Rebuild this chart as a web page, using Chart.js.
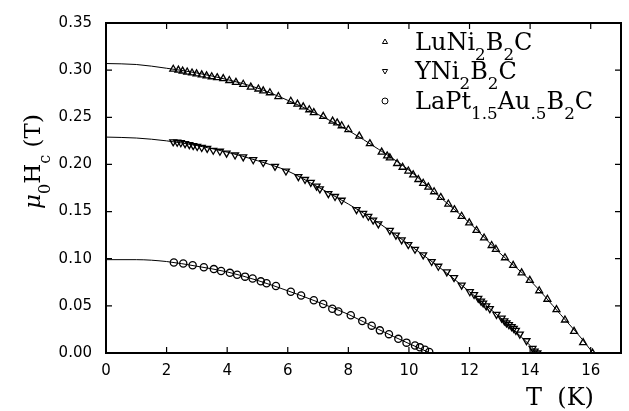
<!DOCTYPE html>
<html>
<head>
<meta charset="utf-8">
<script src="https://cdn.jsdelivr.net/npm/chart.js@4.4.1/dist/chart.umd.min.js"></script>
<style>
  body { margin: 0; background: #fff; }
  #wrap { width: 629px; height: 411px; }
</style>
</head>
<body>
<div id="wrap"><canvas id="myChart"></canvas></div>
<script>
// LuNi2B2C data (T in K, mu0Hc in T)
const luT = [2.22, 2.39, 2.53, 2.68, 2.84, 2.99, 3.16, 3.32, 3.49, 3.67, 3.87, 4.07, 4.29, 4.53, 4.78, 5.03, 5.19, 5.41, 5.69, 6.10, 6.32, 6.51, 6.71, 6.86, 7.17, 7.48, 7.63, 7.78, 8.00, 8.36, 8.71, 9.10, 9.28, 9.37, 9.61, 9.79, 9.98, 10.14, 10.31, 10.47, 10.64, 10.83, 11.05, 11.30, 11.50, 11.74, 11.99, 12.23, 12.48, 12.73, 12.87, 13.17, 13.44, 13.72, 13.99, 14.30, 14.57, 14.87, 15.15, 15.45, 15.75, 16.06];
const luH = [0.301, 0.300, 0.299, 0.298, 0.297, 0.296, 0.295, 0.294, 0.293, 0.292, 0.291, 0.289, 0.287, 0.285, 0.282, 0.280, 0.278, 0.276, 0.272, 0.267, 0.264, 0.261, 0.258, 0.255, 0.251, 0.246, 0.244, 0.241, 0.237, 0.230, 0.222, 0.213, 0.209, 0.207, 0.201, 0.197, 0.193, 0.189, 0.184, 0.180, 0.176, 0.171, 0.165, 0.158, 0.152, 0.145, 0.138, 0.130, 0.122, 0.114, 0.110, 0.101, 0.093, 0.085, 0.077, 0.066, 0.057, 0.046, 0.035, 0.023, 0.011, 0.000];

// YNi2B2C data
const yT = [2.22, 2.35, 2.47, 2.61, 2.75, 2.88, 3.01, 3.16, 3.34, 3.54, 3.76, 3.98, 4.26, 4.53, 4.86, 5.19, 5.58, 5.94, 6.35, 6.57, 6.76, 6.95, 7.06, 7.34, 7.56, 7.78, 8.27, 8.49, 8.66, 8.82, 8.99, 9.37, 9.57, 9.76, 9.98, 10.20, 10.47, 10.75, 10.97, 11.25, 11.49, 11.74, 12.01, 12.15, 12.29, 12.38, 12.45, 12.55, 12.67, 12.89, 13.06, 13.15, 13.22, 13.30, 13.39, 13.46, 13.53, 13.66, 13.88, 14.08, 14.15, 14.24];
const yH = [0.224, 0.2235, 0.223, 0.222, 0.221, 0.220, 0.219, 0.218, 0.217, 0.215, 0.214, 0.212, 0.210, 0.208, 0.205, 0.202, 0.198, 0.193, 0.187, 0.184, 0.181, 0.177, 0.174, 0.169, 0.166, 0.162, 0.152, 0.148, 0.145, 0.141, 0.137, 0.130, 0.125, 0.120, 0.115, 0.110, 0.104, 0.097, 0.092, 0.086, 0.080, 0.072, 0.065, 0.062, 0.058, 0.055, 0.053, 0.050, 0.047, 0.041, 0.037, 0.034, 0.032, 0.030, 0.028, 0.026, 0.024, 0.020, 0.013, 0.005, 0.002, 0.000];

// LaPt1.5Au.5B2C data
const laT = [2.24, 2.55, 2.86, 3.23, 3.56, 3.80, 4.09, 4.33, 4.59, 4.84, 5.11, 5.30, 5.61, 6.10, 6.44, 6.86, 7.17, 7.47, 7.67, 8.08, 8.46, 8.77, 9.04, 9.34, 9.65, 9.92, 10.20, 10.36, 10.53, 10.67];
const laH = [0.096, 0.095, 0.093, 0.091, 0.089, 0.087, 0.085, 0.083, 0.081, 0.079, 0.076, 0.074, 0.071, 0.065, 0.061, 0.056, 0.052, 0.047, 0.044, 0.040, 0.034, 0.029, 0.024, 0.020, 0.015, 0.011, 0.008, 0.006, 0.0035, 0.001];

// fitted curves
const fitLuT = [0, 1, 2, 3, 4, 5, 6, 7, 8, 9, 10, 11, 12, 13, 14, 15, 16, 16.06];
const fitLuH = [0.307, 0.306, 0.302, 0.297, 0.290, 0.281, 0.268, 0.253, 0.236, 0.216, 0.194, 0.166, 0.138, 0.106, 0.077, 0.041, 0.003, 0];
const fitYT = [0, 1, 2, 3, 4, 5, 6, 7, 8, 9, 10, 11, 12, 13, 14, 14.24];
const fitYH = [0.229, 0.228, 0.225, 0.220, 0.213, 0.204, 0.193, 0.176, 0.158, 0.138, 0.115, 0.091, 0.065, 0.038, 0.008, 0];
const fitLaT = [0, 1, 2, 3, 4, 5, 6, 7, 8, 9, 10, 10.7];
const fitLaH = [0.099, 0.099, 0.097, 0.092, 0.086, 0.077, 0.066, 0.054, 0.041, 0.025, 0.010, 0];

const xTicks = [0, 2, 4, 6, 8, 10, 12, 14, 16];

const pts = (xs, ys) => xs.map((x, i) => ({ x: x, y: ys[i] }));

const SERIF = "'DejaVu Serif', serif";

// draw text pieces with subscripts along a baseline
function drawRich(ctx, parts, x, y, size) {
  parts.forEach(p => {
    const fs = p.sub ? size * 0.7 : size;
    ctx.font = (p.italic ? "italic " : "") + fs + "px " + SERIF;
    ctx.fillText(p.t, x, y + (p.sub ? size * 0.42 : 0));
    x += ctx.measureText(p.t).width;
  });
}

function drawMarker(ctx, style, x, y, r) {
  ctx.beginPath();
  if (style === "circle") {
    ctx.arc(x, y, r, 0, Math.PI * 2);
  } else {
    const s = style === "up" ? 1 : -1;
    ctx.moveTo(x, y - s * r);
    ctx.lineTo(x + r * 0.87, y + s * r * 0.5);
    ctx.lineTo(x - r * 0.87, y + s * r * 0.5);
    ctx.closePath();
  }
  ctx.stroke();
}

const frame = {
  id: "frame",
  afterDraw(chart) {
    const { ctx, chartArea: a, scales: { x, y } } = chart;
    ctx.save();
    ctx.strokeStyle = "#000";
    ctx.fillStyle = "#000";
    ctx.lineWidth = 2;
    ctx.strokeRect(a.left, a.top, a.right - a.left, a.bottom - a.top);

    ctx.lineWidth = 1.2;
    ctx.beginPath();
    x.ticks.forEach(t => {
      const px = x.getPixelForValue(t.value);
      ctx.moveTo(px, a.bottom); ctx.lineTo(px, a.bottom - 6);
      ctx.moveTo(px, a.top); ctx.lineTo(px, a.top + 6);
    });
    y.ticks.forEach(t => {
      const py = y.getPixelForValue(t.value);
      ctx.moveTo(a.left, py); ctx.lineTo(a.left + 6, py);
      ctx.moveTo(a.right, py); ctx.lineTo(a.right - 6, py);
    });
    ctx.stroke();

    // legend
    ctx.textAlign = "left";
    ctx.textBaseline = "alphabetic";
    const rows = [
      { m: "up", y: 50, parts: [{ t: "LuNi" }, { t: "2", sub: 1 }, { t: "B" }, { t: "2", sub: 1 }, { t: "C" }] },
      { m: "down", y: 79, parts: [{ t: "YNi" }, { t: "2", sub: 1 }, { t: "B" }, { t: "2", sub: 1 }, { t: "C" }] },
      { m: "circle", y: 109, parts: [{ t: "LaPt" }, { t: "1.5", sub: 1 }, { t: "Au" }, { t: ".5", sub: 1 }, { t: "B" }, { t: "2", sub: 1 }, { t: "C" }] }
    ];
    rows.forEach(r => {
      ctx.lineWidth = 1;
      drawMarker(ctx, r.m, 385, r.y - 8, 3);
      drawRich(ctx, r.parts, 415, r.y, 24);
    });

    // x title
    ctx.font = "24px " + SERIF;
    ctx.fillText("T  (K)", 526, 405);

    // y title
    ctx.translate(40, 209);
    ctx.rotate(-Math.PI / 2);
    drawRich(ctx, [{ t: "μ", italic: 1 }, { t: "0", sub: 1 }, { t: "H" }, { t: "c", sub: 1 }, { t: " (T)" }], 0, 0, 23);
    ctx.restore();
  }
};

const markerStyle = {
  showLine: false,
  pointRadius: 4,
  pointHoverRadius: 4,
  pointBorderWidth: 1.3,
  pointBorderColor: "#000",
  pointBackgroundColor: "rgba(0,0,0,0)",
  order: 1
};
const fitStyle = {
  showLine: true,
  pointRadius: 0,
  borderColor: "#000",
  borderWidth: 1,
  cubicInterpolationMode: "monotone",
  order: 2
};

new Chart(document.getElementById("myChart"), {
  type: "scatter",
  data: {
    datasets: [
      { label: "LuNi2B2C", data: pts(luT, luH), pointStyle: "triangle", ...markerStyle },
      { label: "YNi2B2C", data: pts(yT, yH), pointStyle: "triangle", pointRotation: 180, ...markerStyle },
      { label: "LaPt1.5Au.5B2C", data: pts(laT, laH), pointStyle: "circle", ...markerStyle, pointRadius: 3.6 },
      { label: "fit Lu", data: pts(fitLuT, fitLuH), ...fitStyle },
      { label: "fit Y", data: pts(fitYT, fitYH), ...fitStyle },
      { label: "fit La", data: pts(fitLaT, fitLaH), ...fitStyle }
    ]
  },
  options: {
    responsive: true,
    maintainAspectRatio: false,
    animation: false,
    layout: { padding: { top: 13, right: 8, left: 0, bottom: 0 } },
    plugins: { legend: { display: false }, tooltip: { enabled: false } },
    scales: {
      x: {
        min: 0, max: 17,
        afterBuildTicks: s => { s.ticks = xTicks.map(v => ({ value: v })); },
        afterFit: s => { s.height = 58; },
        grid: { display: false, drawTicks: false },
        border: { display: false },
        ticks: { color: "#000", padding: 9, font: { family: "'DejaVu Sans'", size: 15 } }
      },
      y: {
        min: 0, max: 0.35,
        ticks: {
          stepSize: 0.05, color: "#000", padding: 14,
          font: { family: "'DejaVu Sans'", size: 15 },
          callback: v => v.toFixed(2)
        },
        afterFit: s => { s.width = 106; },
        grid: { display: false, drawTicks: false },
        border: { display: false }
      }
    }
  },
  plugins: [frame]
});
</script>
</body>
</html>
